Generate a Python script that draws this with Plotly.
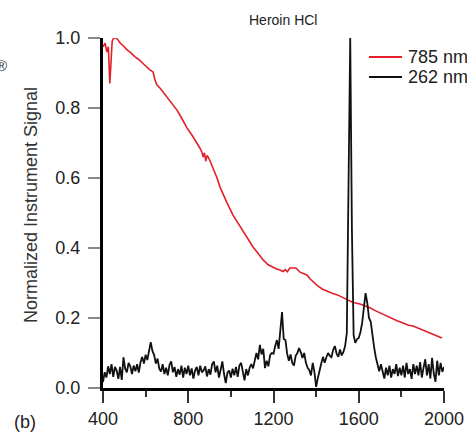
import numpy as np
import plotly.graph_objects as go

# ---- data ----
red_x = [400, 410, 418, 425, 432, 438, 443, 450, 460, 470, 480, 495, 513, 530, 550, 565, 583, 600,
         620, 635, 644, 653, 670, 700, 725, 747, 770, 794, 820, 841, 855, 864, 870, 876, 882, 888,
         893, 905, 916, 935, 949, 965, 982, 1010, 1035, 1057, 1080, 1104, 1130, 1151, 1175, 1193,
         1215, 1230, 1245, 1255, 1265, 1277, 1290, 1305, 1324, 1345, 1357, 1371, 1385, 1405, 1428,
         1450, 1475, 1500, 1521, 1545, 1568, 1590, 1606, 1630, 1653, 1677, 1700, 1725, 1747, 1780,
         1808, 1830, 1855, 1880, 1901, 1925, 1948, 1970, 1990]
red_y = [0.975, 0.985, 0.96, 0.975, 0.87, 0.93, 0.99, 1.0, 1.0, 0.995, 0.986, 0.978, 0.966, 0.958,
         0.946, 0.94, 0.931, 0.92, 0.909, 0.903, 0.88, 0.866, 0.855, 0.83, 0.81, 0.794, 0.77, 0.743,
         0.72, 0.70, 0.685, 0.674, 0.66, 0.672, 0.648, 0.664, 0.66, 0.645, 0.63, 0.60, 0.574, 0.55,
         0.529, 0.494, 0.47, 0.451, 0.428, 0.403, 0.383, 0.366, 0.352, 0.346, 0.34, 0.337, 0.333,
         0.338, 0.332, 0.343, 0.342, 0.343, 0.331, 0.325, 0.323, 0.312, 0.303, 0.293, 0.283, 0.277,
         0.271, 0.266, 0.26, 0.252, 0.246, 0.242, 0.24, 0.234, 0.229, 0.221, 0.214, 0.207, 0.2, 0.192,
         0.186, 0.18, 0.177, 0.171, 0.166, 0.16, 0.154, 0.148, 0.143]

black_x = list(range(400, 2001, 8))
black_y = [
    0.017, 0.045, 0.03, 0.062, 0.04, 0.068, 0.032, 0.06, 0.05, 0.026,
    0.06, 0.023, 0.088, 0.055, 0.045, 0.072, 0.062, 0.04, 0.064, 0.048,
    0.068, 0.044, 0.074, 0.089, 0.07, 0.095, 0.08, 0.112, 0.131, 0.106,
    0.094, 0.07, 0.084, 0.055, 0.047, 0.068, 0.04, 0.058, 0.036, 0.066,
    0.076, 0.045, 0.06, 0.032, 0.054, 0.038, 0.064, 0.03, 0.058, 0.04,
    0.064, 0.036, 0.056, 0.027, 0.05, 0.06, 0.036, 0.064, 0.045, 0.05,
    0.062, 0.033, 0.054, 0.038, 0.068, 0.076, 0.045, 0.064, 0.03, 0.052,
    0.076, 0.04, 0.014, 0.044, 0.05, 0.03, 0.055, 0.036, 0.06, 0.032,
    0.064, 0.072, 0.04, 0.022, 0.054, 0.036, 0.058, 0.068, 0.056, 0.082,
    0.1, 0.082, 0.123, 0.096, 0.112, 0.057, 0.078, 0.062, 0.094, 0.1,
    0.098, 0.12, 0.137, 0.112, 0.16, 0.217, 0.14, 0.137, 0.098, 0.078,
    0.096, 0.072, 0.064, 0.092, 0.1, 0.114, 0.102, 0.086, 0.1, 0.072,
    0.058, 0.051, 0.036, 0.072, 0.046, 0.003, 0.028, 0.054, 0.07, 0.089,
    0.072, 0.088, 0.1, 0.092, 0.088, 0.109, 0.12, 0.098, 0.089, 0.11,
    0.093, 0.103, 0.12, 0.157, 0.55, 1.0, 0.45, 0.15, 0.129, 0.14,
    0.143, 0.16, 0.186, 0.23, 0.271, 0.243, 0.2, 0.19, 0.15, 0.117,
    0.088, 0.066, 0.048, 0.068, 0.042, 0.027, 0.058, 0.036, 0.064, 0.03,
    0.054, 0.04, 0.068, 0.034, 0.058, 0.036, 0.064, 0.03, 0.072, 0.04,
    0.054, 0.026, 0.068, 0.04, 0.064, 0.036, 0.074, 0.03, 0.058, 0.082,
    0.036, 0.068, 0.027, 0.086, 0.042, 0.018, 0.078, 0.036, 0.072, 0.046,
    0.06]

x_ticks = [400, 800, 1200, 1600, 2000]
y_ticks = [0.0, 0.2, 0.4, 0.6, 0.8, 1.0]
y_ticktext = ["0.0", "0.2", "0.4", "0.6", "0.8", "1.0"]
series_names = ["785 nm", "262 nm"]
series_colors = ["#e3202a", "#111111"]

FONT = "Liberation Sans, Arial, sans-serif"

fig = go.Figure()
fig.add_trace(go.Scatter(x=red_x, y=red_y, mode="lines", name=series_names[0],
                         line=dict(color=series_colors[0], width=1.6)))
fig.add_trace(go.Scatter(x=black_x, y=black_y, mode="lines", name=series_names[1],
                         line=dict(color=series_colors[1], width=1.8)))

# custom legend (placed like the reference, running off the right edge)
legend_rows_y = [0.9457, 0.8886]
shapes = []
annotations = []
for name, col, ly in zip(series_names, series_colors, legend_rows_y):
    shapes.append(dict(type="line", xref="paper", yref="paper", x0=0.780, x1=0.877,
                       y0=ly, y1=ly, line=dict(color=col, width=2.2)))
    annotations.append(dict(text=name, x=0.8886, y=ly, xref="paper", yref="paper",
                            showarrow=False, xanchor="left", yanchor="middle",
                            font=dict(size=18, color="#222222")))

annotations += [
    dict(text="Heroin HCl", x=0.528, y=1.051, xref="paper", yref="paper",
         showarrow=False, font=dict(size=14, color="#222222"),
         xanchor="center", yanchor="middle"),
    dict(text="Normalized Instrument Signal", x=-0.211, y=0.523, xref="paper",
         yref="paper", showarrow=False, textangle=-90,
         font=dict(size=18, color="#333333"), xanchor="center", yanchor="middle"),
    dict(text="(b)", x=-0.229, y=-0.097, xref="paper", yref="paper",
         showarrow=False, font=dict(size=18, color="#222222"),
         xanchor="center", yanchor="middle"),
    dict(text="®", x=-0.276, y=0.92, xref="paper", yref="paper",
         showarrow=False, font=dict(size=15, color="#333333"),
         xanchor="right", yanchor="middle"),
]

fig.update_layout(
    width=467, height=433,
    margin=dict(l=103, r=23, t=38, b=45, autoexpand=False),
    paper_bgcolor="white", plot_bgcolor="white",
    font=dict(family=FONT, size=18, color="#222222"),
    showlegend=False,
    shapes=shapes,
    annotations=annotations,
)

fig.update_xaxes(
    range=[400, 2000], tickmode="array", tickvals=x_ticks,
    ticks="outside", ticklen=12, tickwidth=1.5, tickcolor="#333333",
    showline=True, linecolor="black", linewidth=3,
    showgrid=False, zeroline=False,
    minor=dict(dtick=200, tick0=400, ticks="outside", ticklen=6, tickwidth=1.5,
               tickcolor="#333333", showgrid=False),
    tickfont=dict(size=18, color="#222222"),
)
fig.update_yaxes(
    range=[0, 1.0], tickmode="array", tickvals=y_ticks, ticktext=y_ticktext,
    ticks="outside", ticklen=12, tickwidth=1.5, tickcolor="#888888",
    showline=True, linecolor="black", linewidth=3,
    showgrid=False, zeroline=False, ticklabelstandoff=4,
    tickfont=dict(size=18, color="#222222"),
)

fig.write_html("out.html")
